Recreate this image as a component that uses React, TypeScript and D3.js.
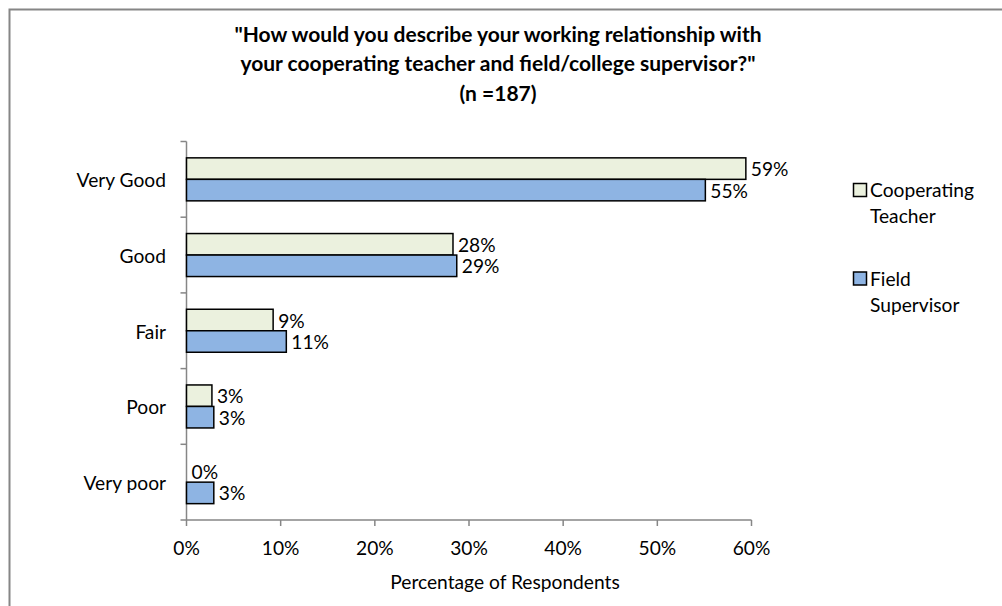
import React from "react";
import * as d3 from "d3";

const categories = ["Very Good", "Good", "Fair", "Poor", "Very poor"];
const seriesNames = ["Cooperating Teacher", "Field Supervisor"];
const cooperating = [59.4, 28.3, 9.2, 2.7, 0];
const fieldSupervisor = [55.1, 28.7, 10.6, 2.9, 2.9];
const cooperatingLabels = ["59%", "28%", "9%", "3%", "0%"];
const fieldLabels = ["55%", "29%", "11%", "3%", "3%"];
const xTicks = [0, 10, 20, 30, 40, 50, 60];
const titleLines = [
  "\"How would you describe your working relationship with",
  "your cooperating teacher and field/college supervisor?\"",
  "(n =187)",
];

const colors = ["#EBF1DE", "#8EB4E3"];
const FONT = "Lato, 'Open Sans', sans-serif";
const FS = 19.2;

export default function App() {
  const W = 1002, H = 606;
  const x = d3.scaleLinear().domain([0, 60]).range([186.5, 751.5]);
  const y = d3.scaleBand().domain(categories).range([141.5, 520]);
  const inner = d3.scaleBand().domain(["0", "1"]).range([0, 43]);
  const bw = y.bandwidth();
  const series = [cooperating, fieldSupervisor];
  const labels = [cooperatingLabels, fieldLabels];
  const axisColor = "#868686";

  return (
    <svg width={W} height={H} style={{ position: "absolute", left: 0, top: 0 }} fontFamily={FONT}>
      <rect x={0} y={0} width={W} height={H} fill="#fff" />
      <rect x={9.5} y={9.5} width={W + 20} height={H + 20} fill="none" stroke="#868686" strokeWidth={2} />
      {titleLines.map((t, i) => (
        <text key={i} x={498} y={42 + i * 29.3} textAnchor="middle" fontSize={21} fontWeight="bold" fill="#000">
          {t}
        </text>
      ))}
      {/* y axis */}
      <line x1={x(0)} x2={x(0)} y1={y.range()[0]} y2={520} stroke={axisColor} strokeWidth={1.5} />
      {[...categories.map((c) => y(c) as number), 520].map((t, i) => (
        <line key={i} x1={x(0) - 6} x2={x(0)} y1={t} y2={t} stroke={axisColor} strokeWidth={1.5} />
      ))}
      {/* x axis */}
      <line x1={x(0)} x2={x(60)} y1={520} y2={520} stroke={axisColor} strokeWidth={1.5} />
      {xTicks.map((t) => (
        <g key={t}>
          <line x1={x(t)} x2={x(t)} y1={520} y2={526} stroke={axisColor} strokeWidth={1.5} />
          <text x={x(t)} y={555} textAnchor="middle" fontSize={FS} fill="#000">{t}%</text>
        </g>
      ))}
      <text x={505} y={589} textAnchor="middle" fontSize={FS} fill="#000">Percentage of Respondents</text>
      {categories.map((c) => (
        <text key={c} x={166} y={(y(c) as number) + bw / 2 + 8} textAnchor="end" fontSize={FS} fill="#000">{c}</text>
      ))}
      {categories.map((c, ci) => {
        const gTop = (y(c) as number) + (bw - 43) / 2;
        return series.map((s, si) => {
          const by = gTop + (inner(String(si)) as number);
          const h = inner.bandwidth();
          const v = s[ci];
          return (
            <g key={c + si}>
              {v > 0 && (
                <rect x={x(0)} y={by} width={x(v) - x(0)} height={h} fill={colors[si]} stroke="#000" strokeWidth={1.5} />
              )}
              <text x={x(v) + 5} y={by + h / 2 + 7.5} fontSize={FS} fill="#000">{labels[si][ci]}</text>
            </g>
          );
        });
      })}
      {/* legend */}
      {seriesNames.map((n, i) => {
        const words = n.split(" ");
        const top = 183.5 + i * 88.5;
        return (
          <g key={n}>
            <rect x={853.5} y={top} width={13} height={13} fill={colors[i]} stroke="#000" strokeWidth={1.5} />
            {words.map((w, wi) => (
              <text key={wi} x={870} y={top + 13.5 + wi * 26} fontSize={FS} fill="#000">{w}</text>
            ))}
          </g>
        );
      })}
    </svg>
  );
}
